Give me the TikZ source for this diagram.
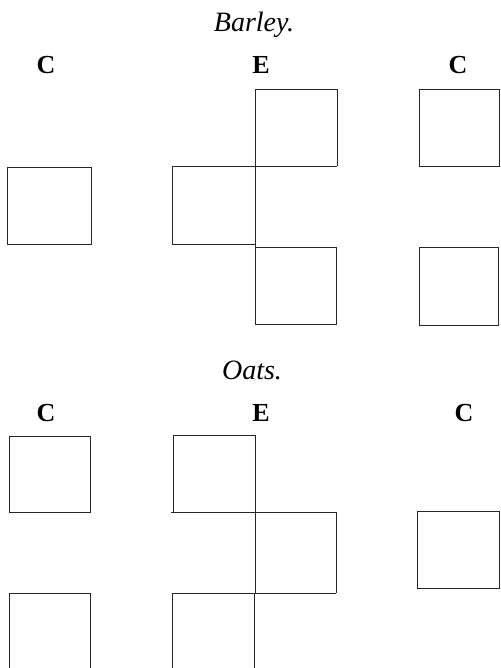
\documentclass[tikz,border=0pt]{standalone}
\usepackage{fontspec}
\setmainfont{Liberation Serif}
\begin{document}
\begin{tikzpicture}[x=1pt,y=-1pt,
  plot/.style={draw=black!85,line width=0.9pt},
  head/.style={anchor=base,inner sep=0pt,font=\fontsize{26}{30}\selectfont\bfseries},
  title/.style={anchor=base,inner sep=0pt,font=\fontsize{28}{30}\selectfont\itshape}]
\useasboundingbox[fill=white] (0,0) rectangle (500,668);
% Barley
\node[title] (tb) at (254,32) {Barley.};
\node[head] (b1) at (46,74) {C};
\node[head] (b2) at (261,74) {E};
\node[head] (b3) at (458,74) {C};
\draw[plot] (7,167) rectangle (91,244);
\draw[plot] (255,166) -- (255,89) -- (337,89) -- (337,166);
\draw[plot] (172,166) -- (337,166);
\draw[plot] (255,244) -- (172,244) -- (172,166);
\draw[plot] (255,166) -- (255,324);
\draw[plot] (255,247) -- (336,247) -- (336,324) -- (255,324);
\draw[plot] (419,89) rectangle (499,166);
\draw[plot] (419,247) rectangle (498,325);
% Oats
\node[title] (to) at (252,379) {Oats.};
\node[head] (o1) at (46,421) {C};
\node[head] (o2) at (261,421) {E};
\node[head] (o3) at (464,421) {C};
\draw[plot] (9,436) rectangle (90,512);
\draw[plot] (9,668) -- (9,593) -- (90,593) -- (90,668);
\draw[plot] (173,435) rectangle (255,512);
\draw[plot] (171,512) -- (337,512);
\draw[plot] (255,512) -- (255,593);
\draw[plot] (336,512) -- (336,593);
\draw[plot] (172,593) -- (336,593);
\draw[plot] (172,668) -- (172,593);
\draw[plot] (254,593) -- (254,668);
\draw[plot] (417,511) rectangle (499,588);
\end{tikzpicture}
\end{document}
